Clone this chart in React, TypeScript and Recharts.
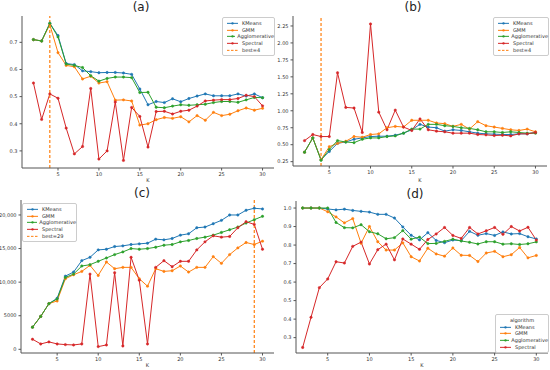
import React from 'react';
import { LineChart, Line, XAxis, YAxis, ReferenceLine } from 'recharts';

const K = [2, 3, 4, 5, 6, 7, 8, 9, 10, 11, 12, 13, 14, 15, 16, 17, 18, 19, 20, 21, 22, 23, 24, 25, 26, 27, 28, 29, 30];
const SERIES = ['KMeans', 'GMM', 'Agglomerative', 'Spectral'];
const COLORS = ['#1f77b4', '#ff7f0e', '#2ca02c', '#d62728'];
const X_TICKS = [5, 10, 15, 20, 25, 30];

// (a)
const aKMeans = [0.71, 0.705, 0.77, 0.725, 0.622, 0.618, 0.595, 0.592, 0.588, 0.589, 0.589, 0.587, 0.582, 0.528, 0.47, 0.482, 0.478, 0.492, 0.481, 0.493, 0.502, 0.51, 0.503, 0.503, 0.503, 0.51, 0.502, 0.51, 0.496];
const aGMM = [0.71, 0.705, 0.765, 0.662, 0.615, 0.61, 0.565, 0.575, 0.55, 0.555, 0.487, 0.488, 0.484, 0.395, 0.4, 0.415, 0.423, 0.42, 0.426, 0.407, 0.43, 0.413, 0.442, 0.43, 0.435, 0.448, 0.458, 0.45, 0.457];
const aAgglo = [0.71, 0.705, 0.77, 0.72, 0.62, 0.615, 0.607, 0.577, 0.557, 0.567, 0.572, 0.572, 0.57, 0.515, 0.516, 0.461, 0.459, 0.465, 0.47, 0.468, 0.47, 0.472, 0.478, 0.482, 0.482, 0.479, 0.488, 0.497, 0.496];
const aSpectral = [0.55, 0.416, 0.51, 0.494, 0.384, 0.289, 0.316, 0.53, 0.27, 0.3, 0.48, 0.265, 0.46, 0.427, 0.314, 0.445, 0.446, 0.436, 0.446, 0.45, 0.465, 0.484, 0.487, 0.489, 0.489, 0.493, 0.505, 0.5, 0.466];
const aYTicks = [0.3, 0.4, 0.5, 0.6, 0.7];
const aYLabels = ['0.3', '0.4', '0.5', '0.6', '0.7'];

// (b)
const bKMeans = [0.39, 0.6, 0.28, 0.4, 0.52, 0.54, 0.58, 0.6, 0.62, 0.625, 0.625, 0.64, 0.67, 0.72, 0.8, 0.76, 0.75, 0.7, 0.72, 0.71, 0.69, 0.67, 0.66, 0.655, 0.65, 0.65, 0.66, 0.66, 0.68];
const bGMM = [0.39, 0.6, 0.28, 0.47, 0.52, 0.55, 0.62, 0.61, 0.65, 0.66, 0.75, 0.77, 0.76, 0.86, 0.86, 0.86, 0.82, 0.81, 0.77, 0.8, 0.73, 0.84, 0.78, 0.76, 0.74, 0.72, 0.71, 0.73, 0.69];
const bAgglo = [0.39, 0.6, 0.27, 0.43, 0.56, 0.54, 0.53, 0.58, 0.6, 0.6, 0.62, 0.63, 0.67, 0.73, 0.73, 0.8, 0.8, 0.78, 0.77, 0.75, 0.74, 0.72, 0.69, 0.69, 0.68, 0.69, 0.68, 0.67, 0.67];
const bSpectral = [0.56, 0.65, 0.62, 0.62, 1.56, 1.05, 1.04, 0.68, 2.28, 0.98, 0.72, 1.01, 0.76, 0.71, 0.88, 0.72, 0.7, 0.69, 0.67, 0.67, 0.67, 0.65, 0.645, 0.635, 0.64, 0.63, 0.66, 0.66, 0.68];
const bYTicks = [0.25, 0.5, 0.75, 1.0, 1.25, 1.5, 1.75, 2.0, 2.25];
const bYLabels = ['0.25', '0.50', '0.75', '1.00', '1.25', '1.50', '1.75', '2.00', '2.25'];

// (c)
const cKMeans = [3300, 4900, 6800, 7600, 10900, 11500, 13200, 13700, 14800, 14900, 15300, 15400, 15600, 15700, 15800, 16400, 16300, 16500, 17000, 17200, 18100, 18200, 18700, 19200, 20000, 20000, 20700, 21000, 20900];
const cGMM = [3300, 4900, 6800, 7200, 10500, 11100, 11600, 12500, 11000, 13000, 12000, 12200, 12200, 10500, 9400, 12000, 11600, 11700, 12400, 11500, 12200, 12200, 13800, 12800, 14100, 15100, 15900, 15600, 16100];
const cAgglo = [3300, 4900, 6800, 7500, 10700, 11200, 12400, 12600, 13100, 13600, 14100, 14500, 15000, 14900, 15000, 15200, 15500, 15600, 16000, 16200, 16500, 16700, 17000, 17400, 17800, 18200, 18800, 19300, 19800];
const cSpectral = [1500, 800, 1100, 800, 700, 650, 800, 11200, 400, 650, 11400, 500, 13700, 10300, 800, 12200, 13200, 12300, 13100, 13100, 14800, 16000, 16900, 16700, 16800, 18100, 19000, 18600, 14900];
const cYTicks = [0, 5000, 10000, 15000, 20000];
const cYLabels = ['0', '5000', '10,000', '15,000', '20,000'];

// (d)
const dKMeans = [1.0, 1.0, 1.0, 0.995, 0.99, 0.994, 0.987, 0.982, 0.978, 0.966, 0.966, 0.946, 0.898, 0.853, 0.828, 0.867, 0.825, 0.813, 0.827, 0.824, 0.874, 0.853, 0.862, 0.852, 0.871, 0.86, 0.862, 0.845, 0.833];
const dGMM = [1.0, 1.0, 1.0, 0.98, 0.952, 0.92, 0.943, 0.81, 0.9, 0.818, 0.773, 0.773, 0.812, 0.737, 0.714, 0.783, 0.752, 0.74, 0.784, 0.745, 0.744, 0.711, 0.757, 0.766, 0.737, 0.748, 0.787, 0.731, 0.744];
const dAgglo = [1.0, 1.0, 1.0, 1.0, 0.922, 0.894, 0.893, 0.91, 0.872, 0.861, 0.834, 0.84, 0.878, 0.832, 0.843, 0.808, 0.809, 0.82, 0.832, 0.822, 0.815, 0.806, 0.818, 0.818, 0.805, 0.807, 0.803, 0.807, 0.817];
const dSpectral = [0.247, 0.41, 0.57, 0.617, 0.71, 0.703, 0.793, 0.816, 0.698, 0.775, 0.805, 0.72, 0.833, 0.805, 0.777, 0.83, 0.86, 0.895, 0.852, 0.836, 0.895, 0.86, 0.877, 0.895, 0.858, 0.9, 0.876, 0.896, 0.827];
const dYTicks = [0.3, 0.4, 0.5, 0.6, 0.7, 0.8, 0.9, 1.0];
const dYLabels = ['0.3', '0.4', '0.5', '0.6', '0.7', '0.8', '0.9', '1.0'];

const FONT = '"DejaVu Sans", sans-serif';
const AXIS = '#555';
const TICK_TEXT = '#333';

function buildData(cols: number[][]) {
  return K.map((k, i) => {
    const row: any = { K: k };
    SERIES.forEach((s, j) => (row[s] = cols[j][i]));
    return row;
  });
}

type PanelProps = {
  left: number; top: number; title: string; titleX: number; titleY: number;
  data: any[]; yDomain: [number, number]; xDomain: [number, number];
  yTicks: number[]; yLabels: string[];
  margin: { top: number; right: number; bottom: number; left: number };
  yWidth: number; xHeight: number; best?: number;
};

function Panel(p: PanelProps) {
  const W = 275, H = 185;
  const fmt = (v: number) => {
    const i = p.yTicks.indexOf(v);
    return i >= 0 ? p.yLabels[i] : String(v);
  };
  return (
    <div style={{ position: 'absolute', left: p.left, top: p.top, width: W, height: H }}>
      <div style={{ position: 'absolute', left: p.titleX - 30, width: 60, top: p.titleY - 8, textAlign: 'center', fontSize: 12, fontFamily: FONT, color: '#222', lineHeight: '16px' }}>{p.title}</div>
      <LineChart width={W} height={H} data={p.data} margin={p.margin} style={{ fontFamily: FONT }}>
        <XAxis dataKey="K" type="number" domain={p.xDomain} ticks={X_TICKS} allowDataOverflow
          height={p.xHeight} tick={{ fontSize: 5, fill: TICK_TEXT }} tickSize={2.5}
          axisLine={{ stroke: AXIS }} tickLine={{ stroke: AXIS }}
          label={{ value: 'K', position: 'insideBottom', offset: 3, fontSize: 5, fill: TICK_TEXT }} />
        <XAxis xAxisId="top" dataKey="K" type="number" orientation="top" domain={p.xDomain} allowDataOverflow
          height={0} tick={false} tickLine={false} axisLine={{ stroke: AXIS }} />
        <YAxis type="number" domain={p.yDomain} ticks={p.yTicks} allowDataOverflow width={p.yWidth}
          tick={{ fontSize: 5, fill: TICK_TEXT }} tickSize={2.5} tickFormatter={fmt}
          axisLine={{ stroke: AXIS }} tickLine={{ stroke: AXIS }} />
        <YAxis yAxisId="right" orientation="right" type="number" domain={p.yDomain} allowDataOverflow width={0}
          tick={false} tickLine={false} axisLine={{ stroke: AXIS }} />
        {SERIES.map((s, i) => (
          <Line key={s} dataKey={s} stroke={COLORS[i]} strokeWidth={1}
            dot={{ r: 1.2, fill: COLORS[i], stroke: COLORS[i], strokeWidth: 0.5 }}
            isAnimationActive={false} />
        ))}
        {p.best !== undefined && (
          <ReferenceLine x={p.best} stroke="#ff7f0e" strokeWidth={1.2} strokeDasharray="3 2" />
        )}
      </LineChart>
    </div>
  );
}

function Legend(props: { left: number; top: number; width: number; rowH: number; best?: string; title?: string }) {
  const items = SERIES.map((s, i) => ({ name: s, color: COLORS[i], dashed: false, marker: true }));
  if (props.best) items.push({ name: props.best, color: '#ff7f0e', dashed: true, marker: false });
  return (
    <div style={{ position: 'absolute', left: props.left, top: props.top, width: props.width, background: 'rgba(255,255,255,0.85)', border: '0.6px solid #ccc', borderRadius: 2, padding: '2px 0 2px 0', fontFamily: FONT, fontSize: 5, color: '#333' }}>
      {props.title && <div style={{ textAlign: 'center', height: props.rowH, lineHeight: props.rowH + 'px' }}>{props.title}</div>}
      {items.map((it) => (
        <div key={it.name} style={{ height: props.rowH, display: 'flex', alignItems: 'center' }}>
          <svg width={14} height={props.rowH} style={{ marginLeft: 3, marginRight: 2 }}>
            <line x1={1} x2={12} y1={props.rowH / 2} y2={props.rowH / 2} stroke={it.color} strokeWidth={1} strokeDasharray={it.dashed ? '2.5 1.5' : undefined} />
            {it.marker && <circle cx={6.5} cy={props.rowH / 2} r={1.2} fill={it.color} />}
          </svg>
          <span style={{ lineHeight: props.rowH + 'px' }}>{it.name}</span>
        </div>
      ))}
    </div>
  );
}

export default function App() {
  const aData = buildData([aKMeans, aGMM, aAgglo, aSpectral]);
  const bData = buildData([bKMeans, bGMM, bAgglo, bSpectral]);
  const cData = buildData([cKMeans, cGMM, cAgglo, cSpectral]);
  const dData = buildData([dKMeans, dGMM, dAgglo, dSpectral]);
  return (
    <div style={{ position: 'fixed', left: 0, top: 0, width: 550, height: 370, background: '#fff', overflow: 'hidden' }}>
      <Panel left={0} top={0} title="(a)" titleX={141} titleY={7} data={aData}
        xDomain={[0.6, 31.4]} yDomain={[0.237, 0.797]} yTicks={aYTicks} yLabels={aYLabels}
        margin={{ top: 16, right: 1, bottom: 0, left: 0 }} yWidth={22} xHeight={17} best={4} />
      <Panel left={275} top={0} title="(b)" titleX={138} titleY={7} data={bData}
        xDomain={[0.6, 31.4]} yDomain={[0.186, 2.397]} yTicks={bYTicks} yLabels={bYLabels}
        margin={{ top: 16, right: 3, bottom: 0, left: 0 }} yWidth={18} xHeight={19} best={4} />
      <Panel left={0} top={185} title="(c)" titleX={142} titleY={8} data={cData}
        xDomain={[0.6, 31.4]} yDomain={[-550, 22230]} yTicks={cYTicks} yLabels={cYLabels}
        margin={{ top: 15, right: 1, bottom: 0, left: 0 }} yWidth={21} xHeight={17} best={29} />
      <Panel left={275} top={185} title="(d)" titleX={140} titleY={9} data={dData}
        xDomain={[1.2, 31.4]} yDomain={[0.217, 1.038]} yTicks={dYTicks} yLabels={dYLabels}
        margin={{ top: 16, right: 2, bottom: 0, left: 0 }} yWidth={21} xHeight={17} />
      <Legend left={222} top={17} width={51} rowH={6.7} best="best=4" />
      <Legend left={493} top={17} width={54} rowH={6.7} best="best=4" />
      <Legend left={22} top={203} width={53} rowH={6.7} best="best=29" />
      <Legend left={495} top={314} width={52} rowH={6.7} title="algorithm" />
    </div>
  );
}
